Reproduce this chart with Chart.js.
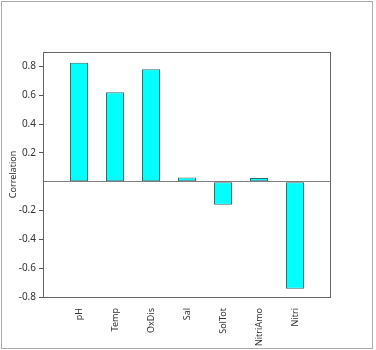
<!DOCTYPE html>
<html>
<head>
<meta charset="utf-8">
<script src="https://cdn.jsdelivr.net/npm/chart.js@4"></script>
<style>
  body { margin: 0; background: #fff; }
  canvas { display: block; }
</style>
</head>
<body>
<canvas id="myChart" width="376" height="350"></canvas>
<script>
const categories = ['pH', 'Temp', 'OxDis', 'Sal', 'SolTot', 'NitriAmo', 'Nitri'];
const correlation = [0.826, 0.62, 0.78, 0.03, -0.16, 0.025, -0.743];

document.addEventListener('DOMContentLoaded', function() {
  const ctx = document.getElementById('myChart');

  // empty slot on each side, like the original plot
  const labels = [''].concat(categories, ['']);
  const values = [null].concat(correlation, [null]);

  const font = { family: 'Noto Sans', size: 9 };

  const frame = {
    id: 'frame',
    afterDraw(chart) {
      const c = chart.ctx;
      const a = chart.chartArea;
      c.save();
      c.strokeStyle = '#ababab';
      c.lineWidth = 1;
      c.strokeRect(1.5, 1.5, 371, 347);
      c.strokeStyle = '#666';
      c.strokeRect(a.left + 0.5, a.top + 0.5, a.right - a.left - 1, a.bottom - a.top);
      c.restore();
    }
  };

  new Chart(ctx, {
    type: 'bar',
    data: {
      labels: labels,
      datasets: [{
        label: 'Correlation',
        data: values,
        backgroundColor: '#00ffff',
        borderColor: '#2f6f6f',
        borderWidth: 1,
        borderSkipped: false,
        barPercentage: 0.5,
        categoryPercentage: 1
      }]
    },
    options: {
      responsive: false,
      animation: false,
      layout: { padding: { left: 0, top: 52, right: 45, bottom: 0 } },
      plugins: { legend: { display: false }, tooltip: { enabled: false } },
      scales: {
        x: {
          offset: false,
          grid: { display: false },
          border: { display: false },
          ticks: {
            autoSkip: false,
            minRotation: 90,
            maxRotation: 90,
            padding: 3,
            color: '#333',
            font: font
          },
          afterFit: function(scale) { scale.height = 53; }
        },
        y: {
          min: -0.8,
          max: 0.9,
          border: { display: false },
          grid: {
            drawOnChartArea: true,
            tickLength: 4,
            color: c => c.tick && c.tick.value === 0 ? '#808080' : 'transparent',
            tickColor: c => c.tick && c.tick.value === 0 ? 'transparent' : '#555'
          },
          ticks: {
            stepSize: 0.2,
            includeBounds: false,
            padding: 3,
            color: '#333',
            font: { family: 'Noto Sans', size: 10 },
            callback: function(v) {
              if (Math.abs(v) < 1e-9) return '';
              return (Math.round(v * 10) / 10).toString();
            }
          },
          title: {
            display: true,
            text: 'Correlation',
            color: '#333',
            padding: { top: 8, bottom: 0 },
            font: font
          },
          afterFit: function(scale) { scale.width = 43; }
        }
      }
    },
    plugins: [frame]
  });
});
</script>
</body>
</html>
